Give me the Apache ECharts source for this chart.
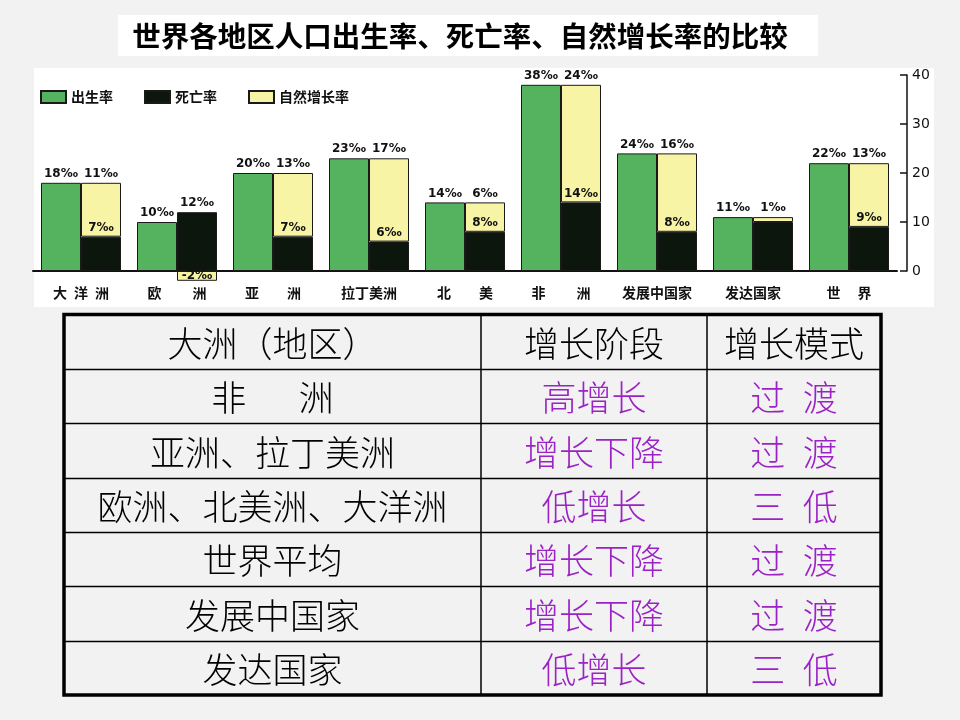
<!DOCTYPE html>
<html>
<head>
<meta charset="utf-8">
<script src="https://cdn.jsdelivr.net/npm/echarts@6/dist/echarts.min.js"></script>
<style>
html, body { margin: 0; padding: 0; background: #f2f2f2; }
#main { width: 960px; height: 720px; }
</style>
</head>
<body>
<div id="main"></div>
<script>
// 图表数据
var chartTitle = '世界各地区人口出生率、死亡率、自然增长率的比较';
var regions = ['大\u2002洋\u2002洲', '欧\u3000\u3000 洲', '亚\u3000\u3000洲', '拉丁美洲', '北\u3000\u3000美', '非\u3000\u3000 洲', '发展中国家', '发达国家', '世\u3000 界'];
var birthRate = [18, 10, 20, 23, 14, 38, 24, 11, 22];
var deathRate = [7, 12, 7, 6, 8, 14, 8, 10, 9];
var growthRate = [11, -2, 13, 17, 6, 24, 16, 1, 13];
var yTicks = [0, 10, 20, 30, 40];

// 表格数据
var tableHead = ['大洲（地区）', '增长阶段', '增长模式'];
var tableRegions = ['非\u3000\u2002洲', '亚洲、拉丁美洲', '欧洲、北美洲、大洋洲', '世界平均', '发展中国家', '发达国家'];
var tableStages = ['高增长', '增长下降', '低增长', '增长下降', '增长下降', '低增长'];
var tableModes = ['过\u2002渡', '过\u2002渡', '三\u2002低', '过\u2002渡', '过\u2002渡', '三\u2002低'];

var font = 'Noto Sans CJK SC';
var ink = '#111';
var purple = '#9b22c4';

var myChart = echarts.init(document.getElementById('main'));

var labelStyle = {
    show: true,
    position: 'top',
    distance: 3,
    formatter: '{c}‰',
    fontSize: 12,
    fontWeight: 'bold',
    color: ink,
    fontFamily: 'DejaVu Sans'
};

// 背景、标题和表格
var graphics = [
    { type: 'rect', z: -1, shape: { x: 34, y: 68, width: 900, height: 239 }, style: { fill: '#fff' } },
    { type: 'rect', z: -1, shape: { x: 118, y: 15, width: 700, height: 41 }, style: { fill: '#fff' } },
    {
        type: 'text', x: 460, y: 36,
        style: { text: chartTitle, fontSize: 28.5, fontWeight: 'bold', fontFamily: font, fill: '#000', align: 'center', verticalAlign: 'middle' }
    }
];

var colX = [64, 481, 707, 881];
var tableTop = 314.5, tableBottom = 695;
var rowCount = tableRegions.length + 1;
var rowH = (tableBottom - tableTop) / rowCount;

for (var r = 1; r < rowCount; r++) {
    var ly = Math.round(tableTop + r * rowH) + 0.5;
    graphics.push({ type: 'line', shape: { x1: colX[0], y1: ly, x2: colX[3], y2: ly }, style: { stroke: '#000', lineWidth: 1.5 } });
}
[colX[1], colX[2]].forEach(function (x) {
    graphics.push({ type: 'line', shape: { x1: x, y1: tableTop, x2: x, y2: tableBottom }, style: { stroke: '#000', lineWidth: 1.5 } });
});
graphics.push({
    type: 'rect',
    shape: { x: colX[0], y: tableTop, width: colX[3] - colX[0], height: tableBottom - tableTop },
    style: { fill: 'none', stroke: '#000', lineWidth: 3.5 }
});

function cellText(text, col, row, color) {
    graphics.push({
        type: 'text',
        x: (colX[col] + colX[col + 1]) / 2,
        y: tableTop + (row + 0.5) * rowH + 2,
        style: { text: text, fontSize: 35, fontFamily: font, fontWeight: 300, fill: color, align: 'center', verticalAlign: 'middle' }
    });
}
tableHead.forEach(function (t, c) { cellText(t, c, 0, '#000'); });
tableRegions.forEach(function (t, i) { cellText(t, 0, i + 1, '#000'); });
tableStages.forEach(function (t, i) { cellText(t, 1, i + 1, purple); });
tableModes.forEach(function (t, i) { cellText(t, 2, i + 1, purple); });

option = {
    backgroundColor: '#f2f2f2',
    animation: false,
    textStyle: { fontFamily: font },
    legend: {
        left: 35,
        top: 85,
        icon: 'rect',
        itemWidth: 25,
        itemHeight: 12,
        itemGap: 31,
        textStyle: { fontSize: 14, fontWeight: 'bold', color: ink, fontFamily: font },
        data: ['出生率', '死亡率', '自然增长率']
    },
    grid: {
        left: 33,
        top: 75,
        width: 864,
        height: 196
    },
    xAxis: {
        type: 'category',
        data: regions,
        axisLine: { show: true, lineStyle: { color: ink, width: 2 } },
        axisTick: { show: false },
        splitLine: { show: false },
        axisLabel: { interval: 0, margin: 15, fontSize: 14, fontWeight: 'bold', color: ink, fontFamily: font }
    },
    yAxis: {
        type: 'value',
        position: 'right',
        offset: 10,
        min: yTicks[0],
        max: yTicks[yTicks.length - 1],
        interval: yTicks[1] - yTicks[0],
        axisLine: { show: true, lineStyle: { color: ink, width: 1.5 } },
        axisTick: { show: true, inside: true, length: 7, lineStyle: { color: ink, width: 1.5 } },
        splitLine: { show: false },
        axisLabel: { margin: 5, fontSize: 14, color: ink, fontFamily: 'DejaVu Sans' }
    },
    series: [
        {
            name: '出生率',
            type: 'bar',
            barWidth: 40,
            barGap: '0%',
            data: birthRate,
            itemStyle: { color: '#55b25e', borderColor: '#1a1a1a', borderWidth: 1 },
            label: labelStyle
        },
        {
            name: '死亡率',
            type: 'bar',
            stack: 'rate',
            barWidth: 40,
            barGap: '0%',
            // 增长率很小时不显示死亡率标注
            data: deathRate.map(function (v, i) {
                var g = growthRate[i];
                return { value: v, label: { show: !(g > 0 && g < 3) } };
            }),
            itemStyle: { color: '#0c160c', borderColor: '#1a1a1a', borderWidth: 1 },
            label: labelStyle
        },
        {
            name: '自然增长率',
            type: 'bar',
            stack: 'rate',
            barWidth: 40,
            barGap: '0%',
            clip: false,
            data: growthRate.map(function (v) {
                return { value: v, label: { position: v < 0 ? 'inside' : 'top' } };
            }),
            itemStyle: { color: '#f8f4a6', borderColor: '#1a1a1a', borderWidth: 1 },
            label: labelStyle
        }
    ],
    graphic: { elements: graphics }
};
myChart.setOption(option);
</script>
</body>
</html>
